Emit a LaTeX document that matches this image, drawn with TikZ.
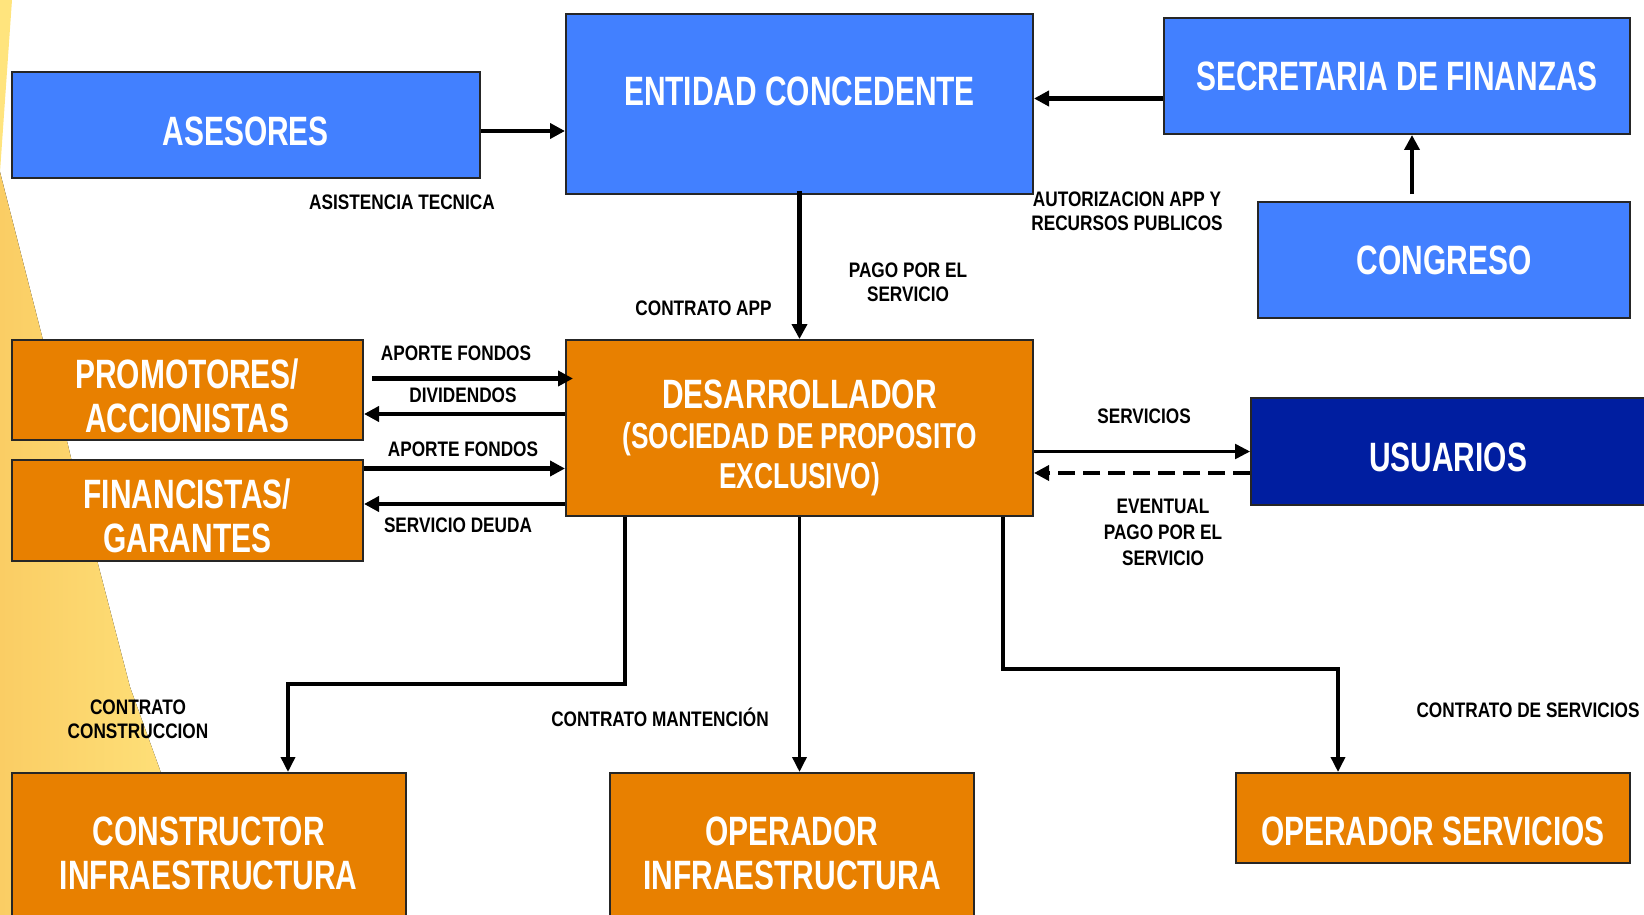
\documentclass[tikz,border=0pt]{standalone}
\usepackage{fontspec}
\setmainfont{Liberation Sans}[FakeStretch=0.73]
\newfontfamily\lblfont{Liberation Sans}[FakeStretch=0.82]
\usetikzlibrary{arrows.meta,calc}
\definecolor{boxblue}{RGB}{66,128,255}
\definecolor{boxorange}{RGB}{232,128,0}
\definecolor{usublue}{RGB}{0,30,160}
\definecolor{yelA}{RGB}{250,205,100}
\definecolor{yelB}{RGB}{255,228,125}
\tikzset{
  box/.style={draw=black!85, line width=2pt, inner sep=0pt, anchor=north west},
  bluebox/.style={box, fill=boxblue},
  orbox/.style={box, fill=boxorange},
  btext/.style={text=white, inner sep=0pt, align=center, font=\bfseries\fontsize{41}{44}\selectfont},
  lbl/.style={inner sep=0pt, align=center, font=\lblfont\bfseries\fontsize{21}{24}\selectfont},
  arr/.style={line width=4.5pt, -{Triangle[length=15pt,width=15pt]}},
  arrthin/.style={line width=2.5pt, -{Triangle[length=15pt,width=15pt]}},
  conn/.style={line width=3.5pt, -{Triangle[length=15pt,width=14pt]}},
}
\begin{document}
\begin{tikzpicture}[x=1pt,y=-1pt]
\useasboundingbox (0,0) rectangle (1644,915);
% background yellow wedges
\fill[left color=yelA, right color=yelB] (0,172) -- (43,340) -- (72,462) -- (97,560) -- (130,687) -- (160,770) -- (208,915) -- (0,915) -- cycle;
\fill[yelB] (0,0) -- (12,0) -- (0,172) -- cycle;

% boxes
\node[bluebox, minimum width=468.5pt, minimum height=106pt, label={[btext,yshift=-6pt]center:ASESORES}] (ases) at (10.5,71) {};
\node[bluebox, minimum width=467pt, minimum height=180.4pt, label={[btext,yshift=12.8pt]center:ENTIDAD CONCEDENTE}] (ent) at (565,12.6) {};
\node[bluebox, minimum width=466pt, minimum height=116pt, label={[btext]center:SECRETARIA DE FINANZAS}] (sec) at (1163,17) {};
\node[bluebox, minimum width=372pt, minimum height=116pt, label={[btext]center:CONGRESO}] (cong) at (1257,201) {};
\node[orbox, minimum width=467pt, minimum height=176pt, label={[btext,font=\bfseries\fontsize{36}{40}\selectfont,yshift=-10pt]center:{{\fontsize{41}{40}\selectfont DESARROLLADOR}\\(SOCIEDAD DE PROPOSITO\\EXCLUSIVO)}}] (des) at (565,339) {};
\node[orbox, minimum width=351.5pt, minimum height=100pt, label={[btext,yshift=-5.5pt]center:{PROMOTORES/\\ACCIONISTAS}}] (prom) at (10.5,339) {};
\node[orbox, minimum width=351.5pt, minimum height=101pt, label={[btext,yshift=-5.5pt]center:{FINANCISTAS/\\GARANTES}}] (fin) at (10.5,459) {};
\node[box, fill=usublue, minimum width=420pt, minimum height=107pt, label={[btext,xshift=-13pt,yshift=-5.5pt]center:USUARIOS}] (usu) at (1250,397) {};
\node[orbox, minimum width=394.5pt, minimum height=180pt, label={[btext,yshift=9.5pt]center:{CONSTRUCTOR\\INFRAESTRUCTURA}}] (cons) at (10.5,772) {};
\node[orbox, minimum width=364pt, minimum height=180pt, label={[btext,yshift=9.5pt]center:{OPERADOR\\INFRAESTRUCTURA}}] (opi) at (609,772) {};
\node[orbox, minimum width=394pt, minimum height=90pt, label={[btext,yshift=-13pt]center:OPERADOR SERVICIOS}] (ops) at (1235,772) {};

% connectors top
\draw[arr] ([yshift=-6pt]ases.east) -- ([yshift=-6pt]ases.east -| ent.west);
\draw[arr] ([yshift=-22.5pt]sec.west) -- ([yshift=-22.5pt]sec.west -| ent.east);
\draw[arr] ([xshift=-32pt,yshift=7pt]cong.north) -- ([xshift=-32pt]cong.north |- sec.south);
\draw[arr] ([yshift=4pt]ent.south) -- (des.north);

% left side
\draw[arr] ([xshift=8pt,yshift=11.5pt]prom.east) -- ([xshift=8pt,yshift=11.5pt]prom.east -| des.west);
\draw[arr] ([yshift=-24pt]prom.east -| des.west) -- ([yshift=-24pt]prom.east);
\draw[arr] ([yshift=42pt]fin.east) -- ([yshift=42pt]fin.east -| des.west);
\draw[arr] ([yshift=6.5pt]fin.east -| des.west) -- ([yshift=6.5pt]fin.east);

% usuarios
\draw[arrthin] (usu.west -| des.east) -- (usu.west);
\draw[arr, line width=3.5pt, dash pattern=on 17pt off 8pt] ([yshift=-21.5pt]usu.west) -- ([yshift=-21.5pt]usu.west -| des.east);

% bottom
\coordinate (k1) at (288,684);
\coordinate (k2) at (1338,669);
\draw[conn] ([xshift=-174.5pt]des.south) |- (k1) -- (k1 |- cons.north);
\draw[conn] (des.south) -- (des.south |- opi.north);
\draw[conn] ([xshift=203.5pt]des.south) |- (k2) -- (k2 |- ops.north);

% labels
\node[lbl] (l1) at (402,202) {ASISTENCIA TECNICA};
\node[lbl] (l2) at (1127,211) {AUTORIZACION APP Y\\RECURSOS PUBLICOS};
\node[lbl] (l3) at (908,282) {PAGO POR EL\\SERVICIO};
\node[lbl] (l4) at (703.5,308) {CONTRATO APP};
\node[lbl] (l5) at (456,353) {APORTE FONDOS};
\node[lbl] (l6) at (463,395) {DIVIDENDOS};
\node[lbl] (l7) at (463,449) {APORTE FONDOS};
\node[lbl] (l8) at (458,525) {SERVICIO DEUDA};
\node[lbl] (l9) at (1144,416) {SERVICIOS};
\node[lbl, font=\lblfont\bfseries\fontsize{21}{26}\selectfont] (l10) at (1163,532) {EVENTUAL\\PAGO POR EL\\SERVICIO};
\node[lbl] (l11) at (138,719) {CONTRATO\\CONSTRUCCION};
\node[lbl] (l12) at (660,717) {CONTRATO MANTENCIÓN};
\node[lbl] (l13) at (1528,710) {CONTRATO DE SERVICIOS};
\end{tikzpicture}
\end{document}
